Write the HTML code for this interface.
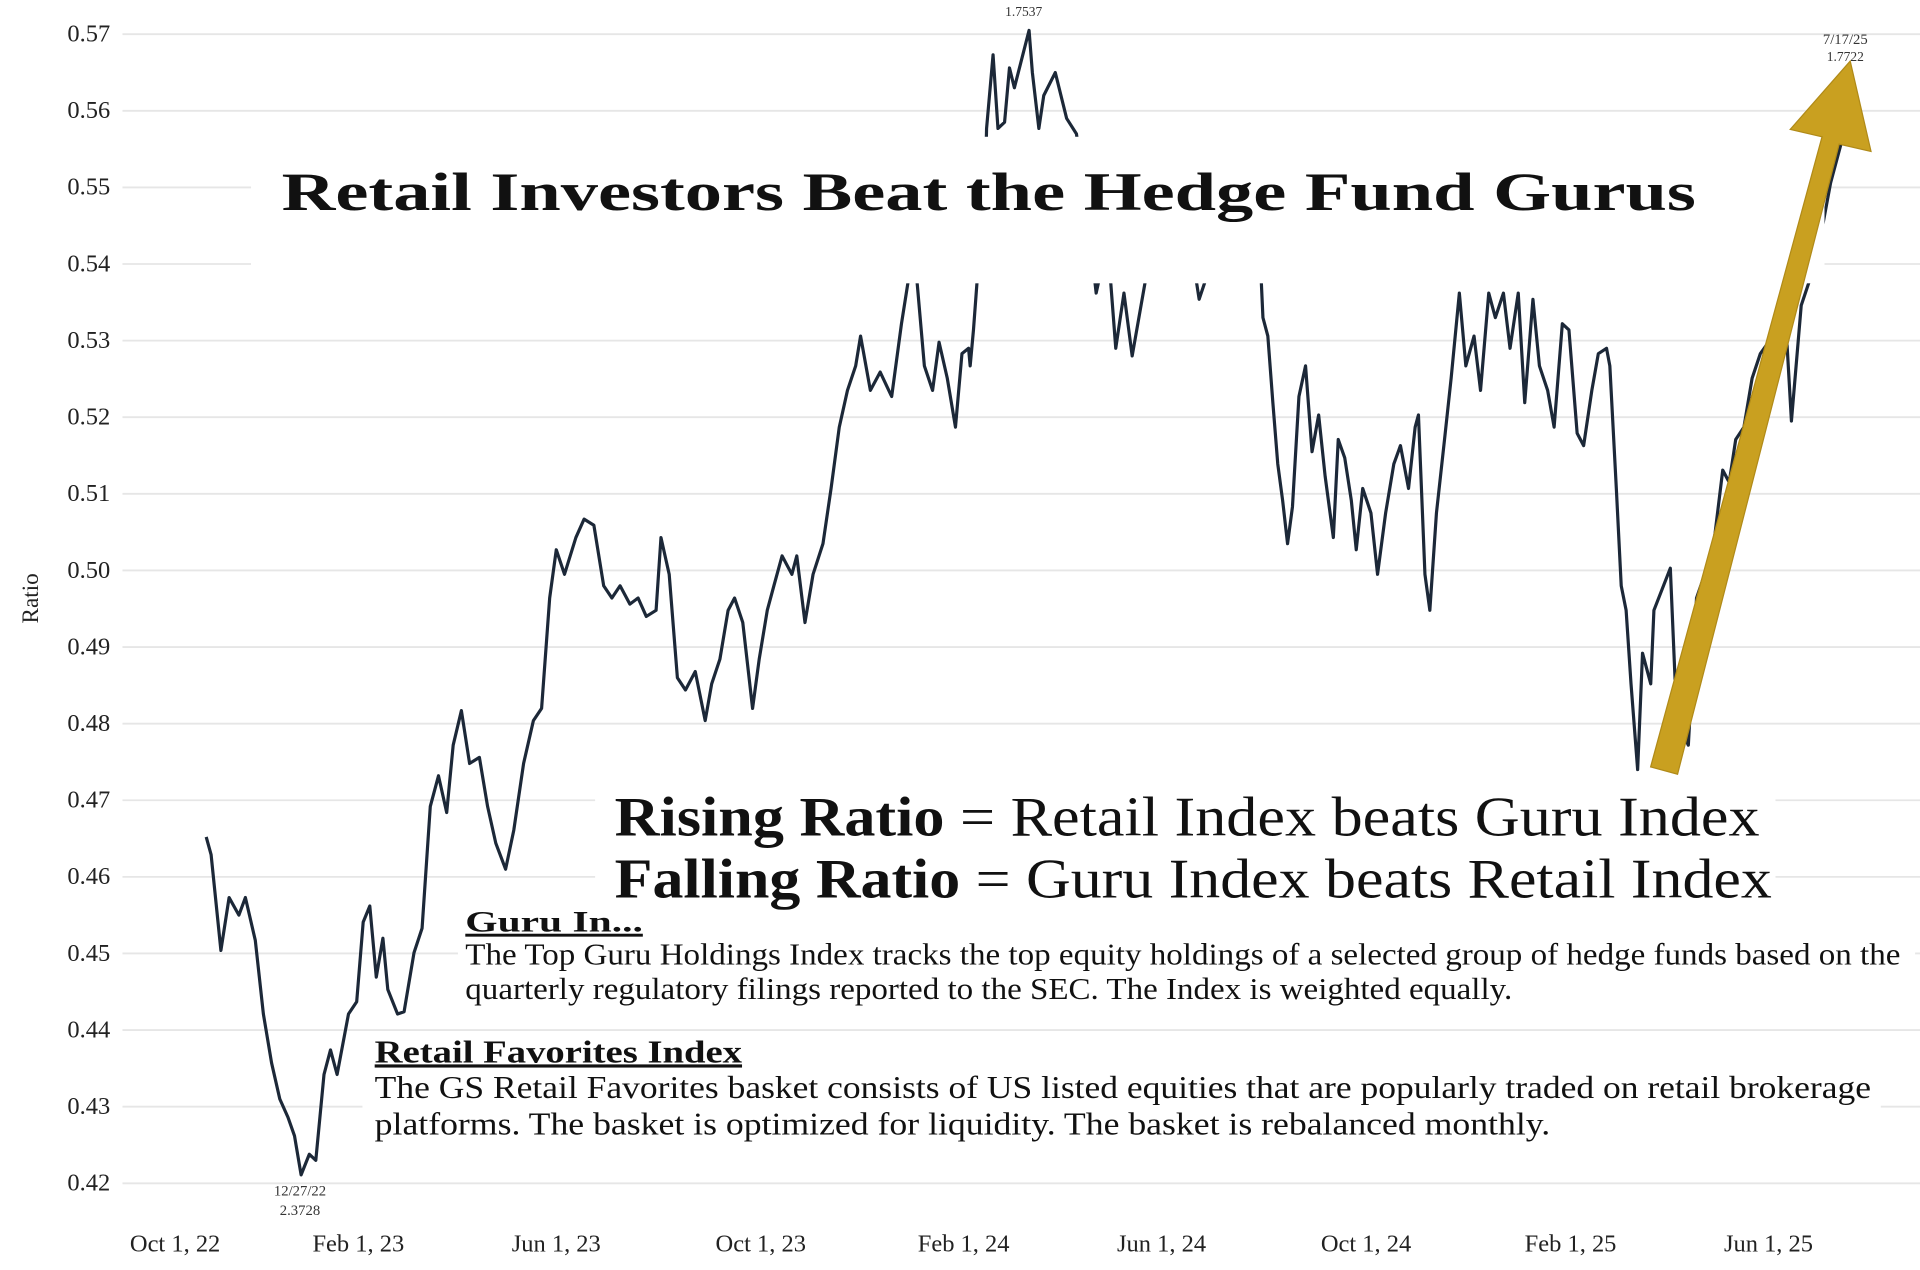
<!DOCTYPE html>
<html><head><meta charset="utf-8">
<style>
html,body{margin:0;padding:0;background:#fff;}
svg{display:block;}
.tick{font-family:"Liberation Serif",serif;font-size:20px;fill:#222;}
</style></head>
<body>
<svg id="chart" width="1920" height="1270" viewBox="0 0 1568 1040" preserveAspectRatio="none" xmlns="http://www.w3.org/2000/svg">
<rect width="1568" height="1040" fill="#fff"/>
<g id="grid"></g>
<g id="yticks"></g>
<g id="xticks"></g>
<text transform="translate(31,490) rotate(-90)" text-anchor="middle" font-family="Liberation Serif, serif" font-size="19" fill="#222">Ratio</text>
<path id="series" fill="none" stroke="#1c2838" stroke-width="2.6" stroke-linejoin="round"/>
<rect x="205" y="112" width="1285" height="120" fill="#fff"/>
<text x="230" y="172" font-family="Liberation Serif, serif" font-weight="bold" font-size="44" fill="#111" textLength="1155" lengthAdjust="spacingAndGlyphs">Retail Investors Beat the Hedge Fund Gurus</text>
<rect x="486" y="636" width="964" height="108" fill="#fff"/>
<text x="502" y="684" font-family="Liberation Serif, serif" font-size="46" fill="#111" textLength="935" lengthAdjust="spacingAndGlyphs"><tspan font-weight="bold">Rising Ratio</tspan> = Retail Index beats Guru Index</text>
<text x="502" y="735" font-family="Liberation Serif, serif" font-size="46" fill="#111" textLength="945" lengthAdjust="spacingAndGlyphs"><tspan font-weight="bold">Falling Ratio</tspan> = Guru Index beats Retail Index</text>
<rect x="374" y="745" width="1190" height="85" fill="#fff"/>
<text x="380" y="763" font-family="Liberation Serif, serif" font-weight="bold" font-size="24" fill="#111" text-decoration="underline" textLength="145" lengthAdjust="spacingAndGlyphs">Guru In...</text>
<text x="380" y="790" font-family="Liberation Serif, serif" font-size="25" fill="#111" textLength="1172" lengthAdjust="spacingAndGlyphs">The Top Guru Holdings Index tracks the top equity holdings of a selected group of hedge funds based on the</text>
<text x="380" y="818" font-family="Liberation Serif, serif" font-size="25" fill="#111" textLength="855" lengthAdjust="spacingAndGlyphs">quarterly regulatory filings reported to the SEC. The Index is weighted equally.</text>
<rect x="296" y="846" width="1240" height="92" fill="#fff"/>
<text x="306" y="870" font-family="Liberation Serif, serif" font-weight="bold" font-size="26" fill="#111" text-decoration="underline" textLength="300" lengthAdjust="spacingAndGlyphs">Retail Favorites Index</text>
<text x="306" y="899" font-family="Liberation Serif, serif" font-size="26" fill="#111" textLength="1222" lengthAdjust="spacingAndGlyphs">The GS Retail Favorites basket consists of US listed equities that are popularly traded on retail brokerage</text>
<text x="306" y="929" font-family="Liberation Serif, serif" font-size="26" fill="#111" textLength="960" lengthAdjust="spacingAndGlyphs">platforms. The basket is optimized for liquidity. The basket is rebalanced monthly.</text>
<polygon points="1348,628 1370,634 1502,118 1528,124 1511,50 1462,106 1488,112" fill="#C9A020" stroke="#b08a18" stroke-width="1"/>
<text x="836" y="13" text-anchor="middle" font-family="Liberation Serif, serif" font-size="11" fill="#333">1.7537</text>
<text x="245" y="979" text-anchor="middle" font-family="Liberation Serif, serif" font-size="12" fill="#333">12/27/22</text>
<text x="245" y="995" text-anchor="middle" font-family="Liberation Serif, serif" font-size="12" fill="#333">2.3728</text>
<text x="1507" y="36" text-anchor="middle" font-family="Liberation Serif, serif" font-size="12" fill="#333">7/17/25</text>
<text x="1507" y="50" text-anchor="middle" font-family="Liberation Serif, serif" font-size="11" fill="#333">1.7722</text>
</svg>
<script>
// days since Oct 1, 2022
const days = [19,22,28,33,39,43,49,54,59,64,69,73,77,82,86,91,95,99,106,111,115,119,123,127,130,136,140,146,151,156,161,166,170,175,180,186,191,196,202,207,213,219,224,229,233,238,245,250,256,262,267,272,278,283,288,294,297,302,307,312,318,324,328,333,338,342,347,353,357,362,366,371,377,380,385,390,396,401,406,411,416,419,425,431,438,444,449,453,458,463,467,472,477,481,485,486,488,491,495,496,500,503,507,510,513,519,522,524,528,531,538,545,551,558,563,570,575,580,585,599,614,626,641,658,662,665,668,671,674,677,680,683,687,691,695,699,703,708,711,715,719,722,726,731,735,740,745,749,754,758,760,764,767,771,776,780,785,789,794,798,803,807,812,816,821,825,830,834,839,843,848,852,857,861,866,870,875,877,881,884,887,890,894,897,902,904,914,918,925,930,935,941,946,950,954,959,964,969,974,979,984,988,994,999,1005,1012,1020];
const ratio = [0.4652,0.4629,0.4504,0.4573,0.455,0.4573,0.4517,0.4421,0.4357,0.431,0.4286,0.4262,0.4211,0.4238,0.423,0.4342,0.4374,0.4342,0.4421,0.4437,0.4541,0.4562,0.4469,0.452,0.4453,0.4421,0.4424,0.4501,0.4533,0.4692,0.4732,0.4684,0.4772,0.4817,0.4748,0.4756,0.4692,0.4644,0.461,0.4661,0.4748,0.4804,0.482,0.4964,0.5027,0.4995,0.5043,0.5067,0.5059,0.498,0.4964,0.498,0.4956,0.4964,0.494,0.4948,0.5043,0.4995,0.486,0.4844,0.4868,0.4804,0.4852,0.4884,0.4948,0.4964,0.4932,0.482,0.4884,0.4948,0.498,0.5019,0.4995,0.5019,0.4932,0.4995,0.5035,0.5107,0.5187,0.5235,0.5267,0.5306,0.5235,0.5259,0.5227,0.5322,0.539,0.539,0.5267,0.5235,0.5298,0.5251,0.5187,0.5283,0.529,0.5267,0.5314,0.54,0.548,0.5577,0.5673,0.5577,0.5585,0.5656,0.563,0.568,0.5705,0.565,0.5577,0.562,0.565,0.559,0.557,0.5457,0.5362,0.543,0.529,0.5362,0.528,0.545,0.552,0.5354,0.545,0.552,0.547,0.533,0.5306,0.5219,0.5139,0.5091,0.5035,0.5083,0.5227,0.5267,0.5155,0.5203,0.5123,0.5043,0.5171,0.5147,0.5091,0.5027,0.5107,0.5075,0.4995,0.5075,0.5139,0.5163,0.5107,0.5187,0.5203,0.4995,0.4948,0.5075,0.5171,0.5251,0.5362,0.5267,0.5306,0.5235,0.5362,0.533,0.5362,0.529,0.5362,0.5219,0.5354,0.5267,0.5235,0.5187,0.5322,0.5314,0.5179,0.5163,0.5235,0.5283,0.529,0.5267,0.5107,0.498,0.4948,0.4852,0.474,0.4892,0.4852,0.4948,0.5003,0.4804,0.4772,0.4964,0.4995,0.5043,0.5131,0.5115,0.5171,0.5187,0.5251,0.5283,0.5298,0.5322,0.5346,0.5195,0.5346,0.5378,0.5426,0.5506,0.557,0.5649,0.5665];
const yTickVals = [0.42,0.43,0.44,0.45,0.46,0.47,0.48,0.49,0.50,0.51,0.52,0.53,0.54,0.55,0.56,0.57];
const xTickDays = [0,112,233,358,482,603,728,853,974];
const xTickLabels = ["Oct 1, 22","Feb 1, 23","Jun 1, 23","Oct 1, 23","Feb 1, 24","Jun 1, 24","Oct 1, 24","Feb 1, 25","Jun 1, 25"];

const NS = "http://www.w3.org/2000/svg";
const xScale = d => 143 + d * 1.336;
const yScale = v => 969 - (v - 0.42) / 0.15 * 941;

const grid = document.getElementById('grid');
const yt = document.getElementById('yticks');
yTickVals.forEach(v => {
  const l = document.createElementNS(NS, 'line');
  
  
  l.setAttribute('x1', 100); l.setAttribute('x2', 1568);
  l.setAttribute('y1', yScale(v)); l.setAttribute('y2', yScale(v));
  l.setAttribute('stroke', '#e6e6e6'); l.setAttribute('stroke-width', '1.5');
  grid.appendChild(l);
  const t = document.createElementNS(NS, 'text');
  
  
  t.setAttribute('class', 'tick');
  t.setAttribute('x', 90); t.setAttribute('y', yScale(v) + 6);
  t.setAttribute('text-anchor', 'end');
  t.textContent = v.toFixed(2);
  yt.appendChild(t);
});
const xt = document.getElementById('xticks');
xTickDays.forEach((d, i) => {
  const t = document.createElementNS(NS, 'text');
  
  
  t.setAttribute('class', 'tick');
  t.setAttribute('x', xScale(d)); t.setAttribute('y', 1025);
  t.setAttribute('text-anchor', 'middle');
  t.textContent = xTickLabels[i];
  xt.appendChild(t);
});
let dstr = '';
days.forEach((d, i) => { dstr += (i ? 'L' : 'M') + xScale(d).toFixed(1) + ',' + yScale(ratio[i]).toFixed(1); });
document.getElementById('series').setAttribute('d', dstr);
</script>
</body></html>
